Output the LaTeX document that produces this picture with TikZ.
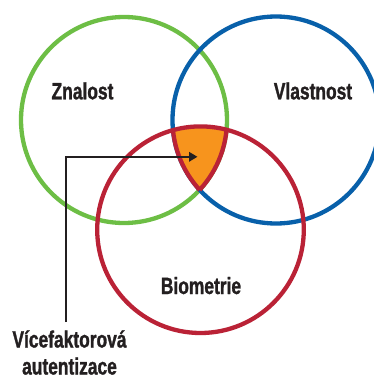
\documentclass[tikz,border=0pt]{standalone}
\usepackage{fontspec}
\newfontfamily\condfont[FakeStretch=0.74, FakeBold=1.2]{Liberation Sans Bold}
\usetikzlibrary{arrows.meta}
\definecolor{cgreen}{HTML}{6DBE45}
\definecolor{cblue}{HTML}{0860AA}
\definecolor{cred}{HTML}{BA2236}
\definecolor{corange}{HTML}{F7941D}
\definecolor{ink}{HTML}{231F20}
\begin{document}
\begin{tikzpicture}[x=1pt,y=-1pt,
  ring/.style={line width=4.3pt},
  lbl/.style={font=\condfont\fontsize{23.5}{27}\selectfont, text=ink, inner sep=0pt},
  pointer/.style={line width=2pt, draw=ink, -{Triangle[length=8.5pt,width=9.5pt]}}]
\useasboundingbox (0,0) rectangle (374,378);
\clip (0,0) rectangle (374,378);
\coordinate (G) at (124,120);
\coordinate (B) at (276,120);
\coordinate (R) at (200.5,229.7);
\def\rG{103}\def\rB{103.5}\def\rR{103.3}
% circles
\draw[ring,cgreen] (G) circle[radius=\rG];
\draw[ring,cblue] (B) circle[radius=\rB];
% orange intersection
\begin{scope}
  \clip (G) circle[radius=\rG];
  \clip (B) circle[radius=\rB];
  \fill[corange] (R) circle[radius=\rR];
\end{scope}
\begin{scope}
  \clip (R) circle[radius=\rR];
  \clip (G) circle[radius=\rG];
  \draw[ring,cred] (B) circle[radius=\rB];
\end{scope}
\begin{scope}
  \clip (R) circle[radius=\rR];
  \clip (B) circle[radius=\rB];
  \draw[ring,cred] (G) circle[radius=\rG];
\end{scope}
\draw[ring,cred] (R) circle[radius=\rR];
% labels
\node[lbl, anchor=base] (znalost) at (82.5,99.3) {Znalost};
\node[lbl, anchor=base] (vlastnost) at (313,99.3) {Vlastnost};
\node[lbl, anchor=base] (biometrie) at (201,294) {Biometrie};
\node[lbl, anchor=base, align=center] (mfa) at (69.5,374.5) {Vícefaktorová\\autentizace};
% pointer
\coordinate (start) at (65.7,322);
\coordinate (tip) at (197.5,156.8);
\draw[pointer] (start) |- (tip);
\end{tikzpicture}
\end{document}
